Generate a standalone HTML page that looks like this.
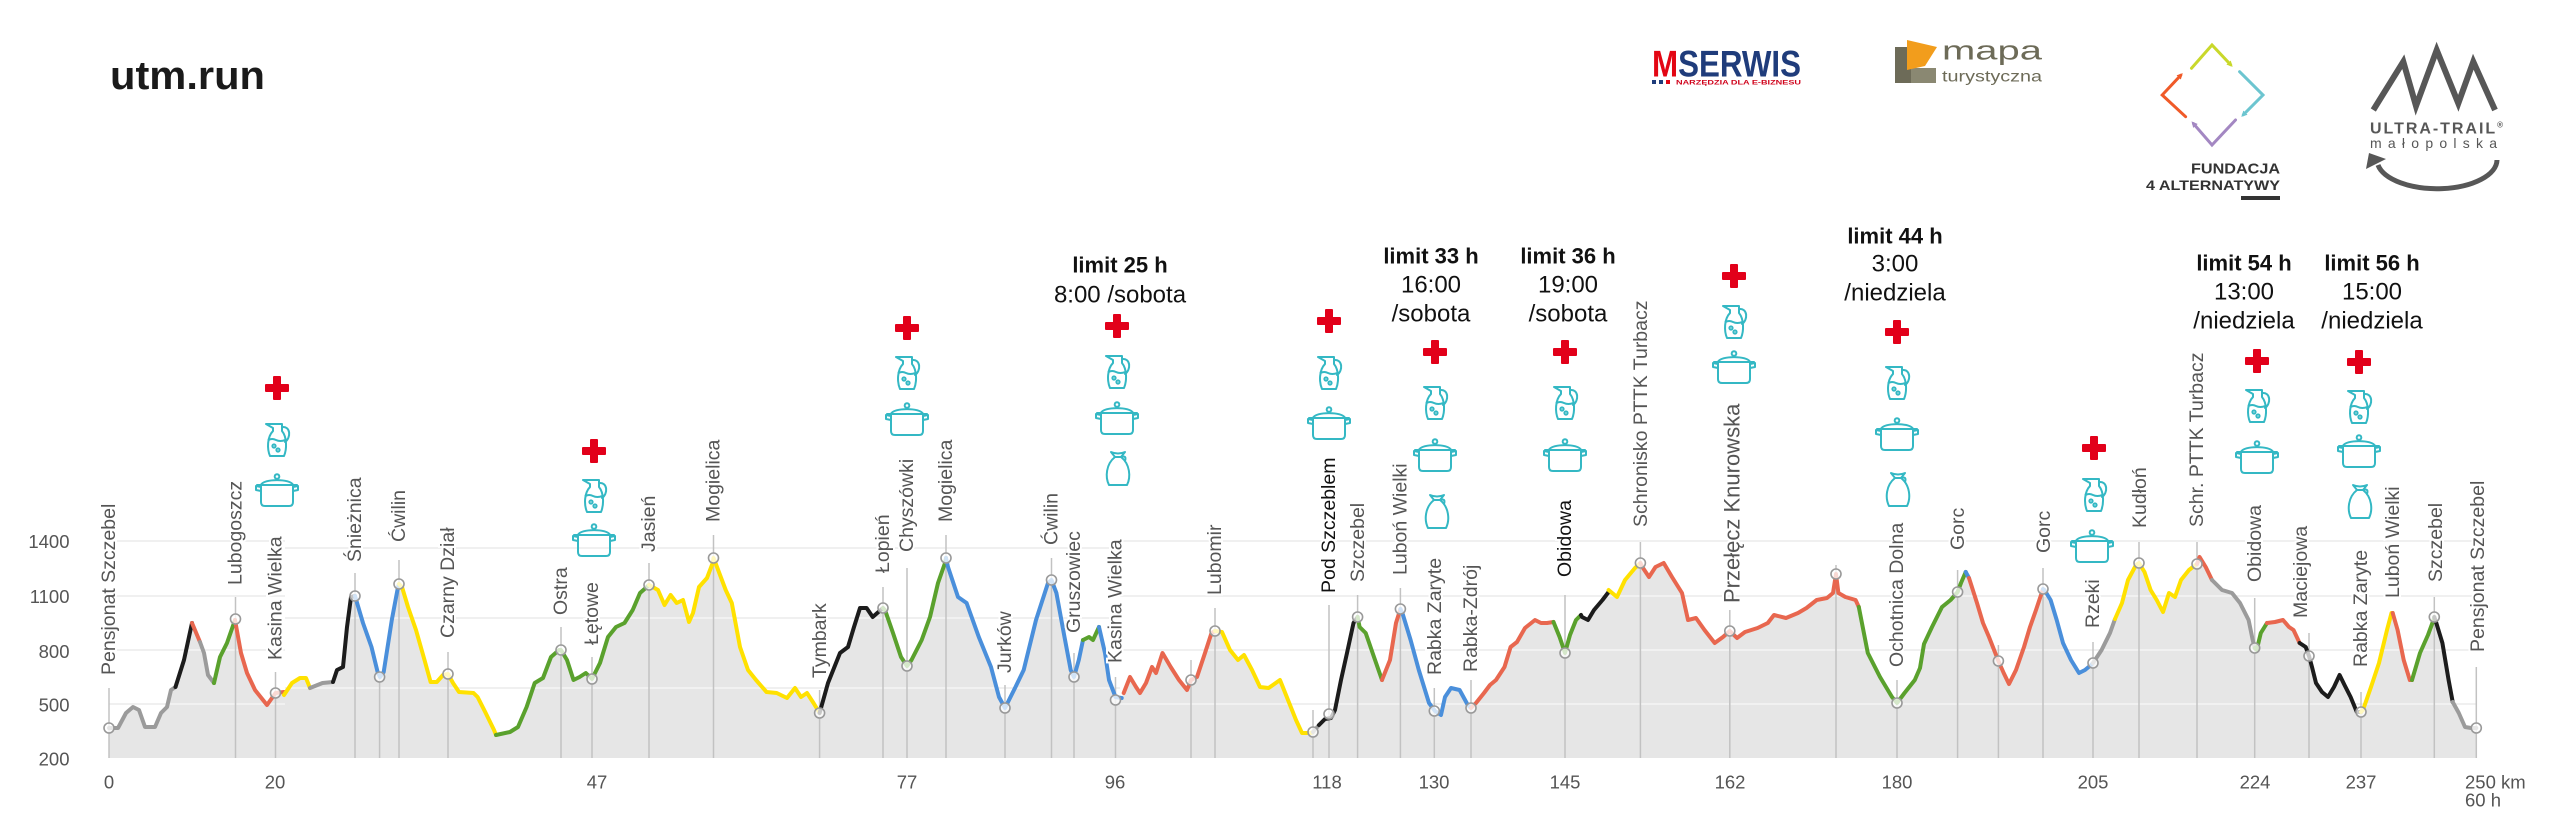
<!DOCTYPE html>
<html><head><meta charset="utf-8">
<style>
html,body{margin:0;padding:0;background:#fff;}
svg{display:block;}
.lab{font-size:19.5px;fill:#555;stroke:#fff;stroke-width:4px;paint-order:stroke;dominant-baseline:central;}
.labk{fill:#111;}
.ax{font-size:18.5px;fill:#555;dominant-baseline:central;}
.lim{font-size:22px;font-weight:bold;fill:#111;text-anchor:middle;dominant-baseline:central;}
.tm{font-size:24px;fill:#111;text-anchor:middle;dominant-baseline:central;}
</style></head>
<body>
<svg width="2560" height="815" viewBox="0 0 2560 815" xmlns="http://www.w3.org/2000/svg" font-family="'Liberation Sans', Arial, sans-serif">
<defs>
  <g id="cross" fill="#e2001a"><rect x="-12" y="-4" width="24" height="8" rx="1"/><rect x="-4" y="-12" width="8" height="24" rx="1"/></g>
  <g id="jug" fill="none" stroke="#34b8c4" stroke-width="2" stroke-linejoin="round" stroke-linecap="round">
    <path d="M-11,-16 L5,-16 L5,-9 C10,-3 10,9 7,16 L-7,16 C-10,9 -10,-3 -4,-9 L-4,-12 Z"/>
    <path d="M5,-13 C14,-14 14,-2 8,2"/>
    <path d="M-8.5,0 Q-5,-2 -1,0 T8.5,0"/>
    <circle cx="-3" cy="6" r="1.6"/><circle cx="1" cy="10" r="1.6"/>
  </g>
  <g id="pot" fill="none" stroke="#34b8c4" stroke-width="2" stroke-linejoin="round" stroke-linecap="round">
    <circle cx="0" cy="-13.5" r="2.3"/>
    <path d="M-16,-5 C-14,-11.5 14,-11.5 16,-5"/>
    <path d="M-20,-5 L20,-5"/>
    <path d="M-16,-5 L-16,12 Q-16,16 -12,16 L12,16 Q16,16 16,12 L16,-5"/>
    <path d="M-16,-3 L-21,-4 L-21,0 L-16,1"/>
    <path d="M16,-3 L21,-4 L21,0 L16,1"/>
  </g>
  <g id="bag" fill="none" stroke="#34b8c4" stroke-width="2" stroke-linejoin="round" stroke-linecap="round">
    <path d="M-7,-17 Q0,-14 7,-17 L3,-12 L-3,-12 Z"/>
    <path d="M-3,-12 C-12,-5 -13,8 -9,16 L9,16 C13,8 12,-5 3,-12"/>
    <path d="M3,-12 Q9,-14 7,-8"/>
  </g>
  <marker id="ay" markerWidth="6" markerHeight="6" refX="3" refY="3" orient="auto" markerUnits="userSpaceOnUse"><path d="M0,0 L6,3 L0,6 Z" fill="#c9d82b"/></marker>
  <marker id="ac" markerWidth="6" markerHeight="6" refX="3" refY="3" orient="auto" markerUnits="userSpaceOnUse"><path d="M0,0 L6,3 L0,6 Z" fill="#6cc5d0"/></marker>
  <marker id="ap" markerWidth="6" markerHeight="6" refX="3" refY="3" orient="auto" markerUnits="userSpaceOnUse"><path d="M0,0 L6,3 L0,6 Z" fill="#a387c2"/></marker>
  <marker id="ao" markerWidth="6" markerHeight="6" refX="3" refY="3" orient="auto" markerUnits="userSpaceOnUse"><path d="M0,0 L6,3 L0,6 Z" fill="#f05a28"/></marker>
</defs>

<rect width="2560" height="815" fill="#fff"/>

<!-- header -->
<text x="110" y="89" font-size="40" font-weight="bold" fill="#1a1a1a" textLength="155" lengthAdjust="spacingAndGlyphs">utm.run</text>

<!-- MSERWIS -->
<text x="1652" y="76.7" font-size="37" font-weight="bold" textLength="149" lengthAdjust="spacingAndGlyphs"><tspan fill="#e30613">M</tspan><tspan fill="#1f3c7b">SERWIS</tspan></text>
<rect x="1652" y="80" width="4" height="4" fill="#1f3c7b"/>
<rect x="1659" y="80" width="4" height="4" fill="#1f3c7b"/>
<rect x="1666" y="80" width="4" height="4" fill="#e30613"/>
<text x="1676" y="84.5" font-size="6" font-weight="bold" fill="#d0021b" textLength="125" lengthAdjust="spacingAndGlyphs">NARZĘDZIA DLA E-BIZNESU</text>

<!-- mapa turystyczna -->
<polygon points="1895,47 1911,47 1911,68 1936,68 1936,83 1895,83" fill="#6d6b58"/>
<polygon points="1911,68 1936,68 1936,83 1911,83" fill="#8a8872"/>
<polygon points="1907,40 1937,47 1925,66 1907,70" fill="#f29d1c"/>
<text x="1942" y="59.5" font-size="27" fill="#6d6b58" textLength="100" lengthAdjust="spacingAndGlyphs">mapa</text>
<text x="1942" y="81.7" font-size="16" fill="#6d6b58" textLength="100" lengthAdjust="spacingAndGlyphs">turystyczna</text>

<!-- Fundacja 4 Alternatywy -->
<g fill="none" stroke-width="3" stroke-linecap="round" stroke-linejoin="miter">
  <polyline points="2191.5,68.3 2212,45 2230.6,64.7" stroke="#c9d82b" marker-end="url(#ay)"/>
  <polyline points="2239.6,71.7 2263,95 2243.4,114.7" stroke="#6cc5d0" marker-end="url(#ac)"/>
  <polyline points="2235.5,120 2212,145 2193.5,123.7" stroke="#a387c2" marker-end="url(#ap)"/>
  <polyline points="2185.6,116.7 2162.2,95 2180.7,75.3" stroke="#f05a28" marker-end="url(#ao)"/>
</g>
<text x="2191" y="173.3" font-size="15" font-weight="bold" fill="#333" textLength="89" lengthAdjust="spacingAndGlyphs">FUNDACJA</text>
<text x="2146" y="190" font-size="14" font-weight="bold" fill="#333" textLength="134" lengthAdjust="spacingAndGlyphs">4 ALTERNATYWY</text>
<rect x="2241" y="196" width="39" height="4" fill="#333"/>

<!-- Ultra-Trail Malopolska -->
<polyline points="2373.3,110 2403.3,61.7 2416,106 2436.7,50 2458.3,103.3 2473.3,61.7 2495,110" fill="none" stroke="#575757" stroke-width="6" stroke-linejoin="miter"/>
<text x="2370" y="133.3" font-size="16" font-weight="bold" fill="#575757" textLength="133" lengthAdjust="spacing">ULTRA-TRAIL<tspan font-size="8" dy="-6">®</tspan></text>
<text x="2370" y="148" font-size="14" fill="#575757" textLength="127" lengthAdjust="spacing">małopolska</text>
<path d="M2378,165 A60 29 0 0 0 2497,160" fill="none" stroke="#575757" stroke-width="5"/>
<polygon points="2369,153 2366,169 2386,159" fill="#575757"/>

<!-- gridlines under fill -->
<g stroke="#e4e4e4" stroke-width="2">
  <line x1="109" y1="541" x2="285" y2="541"/><line x1="109" y1="596" x2="285" y2="596"/>
  <line x1="109" y1="650" x2="285" y2="650"/><line x1="109" y1="704" x2="285" y2="704"/>
  <line x1="285" y1="548" x2="1120" y2="548"/><line x1="285" y1="618" x2="1120" y2="618"/><line x1="285" y1="688" x2="1120" y2="688"/>
  <line x1="1120" y1="541" x2="2476" y2="541"/><line x1="1120" y1="596" x2="2476" y2="596"/>
  <line x1="1120" y1="650" x2="2476" y2="650"/><line x1="1120" y1="704" x2="2476" y2="704"/>
</g>

<!-- fill -->
<polygon fill="#e6e6e6" points="109,728 118,728 126,713 133,707 139,710 145,727 155,727 161,713 167,707 171,690 175.5,687 184,660 192,623 200,642 204,653 208,675 214,683 220,657 227,643 235,620 241,653 247,673 255,690 267,705 275.5,693 284,692 284,695 292,683 300,678 306,678 310,688 322.5,683 333,682 337,670 343,667 347,627 351,597 355,596 363,623 371.5,647 377.6,672 380,677 383.7,672 391.8,620 398,587 399,584 402,587 408,607 416,630 424.5,660 430.6,682 436.8,682 443,675 448,674 453,683 459,692 473.5,693 477.6,697 485.7,713 494,730 496,735 510,732 518,727 526.6,707 534.7,683 543,678 551,657 559,650 561,650 567,660 573.5,680 579.6,677 585.8,673 592,679 600,663 608,637 616,627 624.5,623 632.7,610 640,593 649,585 658,590 664.5,605 670.6,595 676.7,603 683,600 689,622 693,613 699,587 707,578 712.7,563 713.5,558 715.5,563 725.7,590 731.8,603 740,647 748,670 756,680 766.5,692 776.7,693 787,698 795,688 801,697 807,693 813.5,703 819.6,713 828,683 840,653 848,647 854,627 860,608 866.6,608 872.7,617 883,608 885,610 893,633 901,657 907,666 911.5,660 921.7,640 930,617 938,583 945,563 946,558 948,567 958,597 966.6,603 978.8,637 991,667 999,697 1005,708 1015.5,687 1023.7,670 1036,620 1048,583 1051.5,580 1056.4,593 1064.5,637 1070.7,670 1074,677 1078.8,660 1083,640 1089,637 1093,640 1099,627 1105,653 1109,680 1115.5,697 1121.7,698 1123.7,693 1130,677 1136,687 1140,693 1146,683 1152,667 1156,673 1162.5,653 1170.7,667 1179,680 1187,690 1191,680 1197,677 1205,653 1211.5,633 1215,631 1222,632 1230,650 1238,660 1244,655 1252,670 1260,687 1268.6,688 1280,680 1288,700 1296,720 1302,733 1310.6,733 1313,732 1319,725 1325,719 1331,718 1335,710 1341,680 1347,653 1353.5,623 1357.6,617 1359.6,627 1365.7,633 1374,657 1382,680 1390,660 1396,623 1400.4,609 1402.4,613 1410.6,640 1418.8,670 1429,703 1435,711 1441,715 1445,697 1451,688 1459.6,690 1467.8,705 1471,708 1476,703 1484,693 1490,685 1496,680 1504.5,667 1510.6,647 1517,642 1525,628 1535,620 1541,623 1547,623 1553.5,622 1559.6,637 1565,653 1570,635 1576,620 1581,615 1582,617 1588,620 1594,610 1602.5,600 1608.6,592 1608.6,590 1617,597 1625,580 1635,568 1640.4,563 1643,568 1649,577 1655.5,567 1663.7,563 1672,577 1682,593 1688,620 1696,618 1704.5,630 1714.7,643 1723,637 1729.8,631 1737,638 1745,632 1757.6,628 1767.8,623 1774,615 1786,618 1798,613 1806.5,608 1816.7,600 1827,598 1833,593 1836,574 1838.4,593 1845.4,597 1855.6,600 1858.8,607 1867.8,653 1880,677 1892,697 1897,703 1904.5,693 1914.8,680 1920,668 1924,644 1932,627 1942,607 1950.6,600 1957.6,592 1961,583 1965.7,572 1969,578 1977,603 1983,623 1989,637 1998.4,661 2003.7,673 2009,684 2016,670 2024,647 2030,627 2036,610 2043,589 2044.5,590 2050.6,600 2056.7,620 2063,643 2071,660 2079,673 2085,670 2091,665 2093,663 2101.6,650 2110,633 2115,619 2122,603 2128,580 2136,565 2139,563 2144.5,572 2150.6,590 2156.7,600 2163,612 2169,593 2175,597 2181,580 2189,570 2195.5,565 2197,564 2199.6,557 2205.7,567 2212,580 2214,582 2222,590 2232,593 2240,603 2248.6,620 2252.7,640 2254.7,648 2256.7,650 2260.8,633 2267,623 2275,622 2283,620 2289,627 2293.5,630 2299.6,643 2305.7,647 2309,656 2312,667 2316,683 2322,692 2328,697 2334,687 2339.6,675 2344.5,685 2350.6,697 2356.8,712 2361,712 2363,710 2371,687 2379,663 2387,630 2391.5,613 2392.7,613 2397.6,630 2403.7,660 2409.8,680 2412,680 2420,653 2428,635 2433.5,620 2434.3,617 2436.3,623 2442.4,643 2448.6,680 2452.7,702 2458.8,713 2465,727 2471,728 2476.3,728 2476.3,758 109,758"/>

<!-- gridlines overlay on fill -->
<g stroke="#ffffff" stroke-opacity="0.45" stroke-width="2">
  <line x1="109" y1="541" x2="285" y2="541"/><line x1="109" y1="596" x2="285" y2="596"/>
  <line x1="109" y1="650" x2="285" y2="650"/><line x1="109" y1="704" x2="285" y2="704"/>
  <line x1="285" y1="548" x2="1120" y2="548"/><line x1="285" y1="618" x2="1120" y2="618"/><line x1="285" y1="688" x2="1120" y2="688"/>
  <line x1="1120" y1="541" x2="2476" y2="541"/><line x1="1120" y1="596" x2="2476" y2="596"/>
  <line x1="1120" y1="650" x2="2476" y2="650"/><line x1="1120" y1="704" x2="2476" y2="704"/>
</g>

<!-- tick lines -->
<g stroke="#c2c2c2" stroke-width="1.5">
  <line x1="109" y1="758" x2="109" y2="688"/>
  <line x1="235.5" y1="758" x2="235.5" y2="597"/>
  <line x1="275.5" y1="758" x2="275.5" y2="672"/>
  <line x1="355" y1="758" x2="355" y2="573"/>
  <line x1="379.6" y1="758" x2="379.6" y2="677"/>
  <line x1="399" y1="758" x2="399" y2="560"/>
  <line x1="448" y1="758" x2="448" y2="652"/>
  <line x1="561" y1="758" x2="561" y2="627"/>
  <line x1="592" y1="758" x2="592" y2="657"/>
  <line x1="649" y1="758" x2="649" y2="563"/>
  <line x1="713.5" y1="758" x2="713.5" y2="535"/>
  <line x1="819.6" y1="758" x2="819.6" y2="690"/>
  <line x1="883" y1="758" x2="883" y2="587"/>
  <line x1="907" y1="758" x2="907" y2="568"/>
  <line x1="946" y1="758" x2="946" y2="535"/>
  <line x1="1005" y1="758" x2="1005" y2="685"/>
  <line x1="1051.5" y1="758" x2="1051.5" y2="558"/>
  <line x1="1074" y1="758" x2="1074" y2="653"/>
  <line x1="1115.5" y1="758" x2="1115.5" y2="677"/>
  <line x1="1191" y1="758" x2="1191" y2="660"/>
  <line x1="1215" y1="758" x2="1215" y2="608"/>
  <line x1="1313" y1="758" x2="1313" y2="710"/>
  <line x1="1329" y1="758" x2="1329" y2="605"/>
  <line x1="1357.6" y1="758" x2="1357.6" y2="595"/>
  <line x1="1400.4" y1="758" x2="1400.4" y2="588"/>
  <line x1="1434.3" y1="758" x2="1434.3" y2="688"/>
  <line x1="1471" y1="758" x2="1471" y2="680"/>
  <line x1="1565" y1="758" x2="1565" y2="595"/>
  <line x1="1640.4" y1="758" x2="1640.4" y2="542"/>
  <line x1="1729.8" y1="758" x2="1729.8" y2="610"/>
  <line x1="1836" y1="758" x2="1836" y2="565"/>
  <line x1="1897" y1="758" x2="1897" y2="680"/>
  <line x1="1957.6" y1="758" x2="1957.6" y2="570"/>
  <line x1="1998.4" y1="758" x2="1998.4" y2="645"/>
  <line x1="2043" y1="758" x2="2043" y2="568"/>
  <line x1="2093" y1="758" x2="2093" y2="642"/>
  <line x1="2139" y1="758" x2="2139" y2="542"/>
  <line x1="2197" y1="758" x2="2197" y2="542"/>
  <line x1="2254.7" y1="758" x2="2254.7" y2="598"/>
  <line x1="2309" y1="758" x2="2309" y2="633"/>
  <line x1="2361" y1="758" x2="2361" y2="692"/>
  <line x1="2434.3" y1="758" x2="2434.3" y2="597"/>
  <line x1="2476.3" y1="758" x2="2476.3" y2="667"/>
</g>

<!-- profile colored segments -->
<g fill="none" stroke-width="4" stroke-linejoin="round" stroke-linecap="round">
  <polyline stroke="#9b9b9b" points="109,728 118,728 126,713 133,707 139,710 145,727 155,727 161,713 167,707 171,690 175.5,687"/>
  <polyline stroke="#1c1c1c" points="175.5,687 184,660 192,623"/>
  <polyline stroke="#e8674f" points="192,623 200,642"/>
  <polyline stroke="#9b9b9b" points="200,642 204,653 208,675 214,683"/>
  <polyline stroke="#5aa12d" points="214,683 220,657 227,643 235,620"/>
  <polyline stroke="#e8674f" points="235,620 241,653 247,673 255,690 267,705 275.5,693 284,692"/>
  <polyline stroke="#ffe100" points="284,695 292,683 300,678 306,678 310,688"/>
  <polyline stroke="#9b9b9b" points="310,688 322.5,683 333,682"/>
  <polyline stroke="#1c1c1c" points="333,682 337,670 343,667 347,627 351,597 355,596"/>
  <polyline stroke="#4a8fdb" points="355,596 363,623 371.5,647 377.6,672 380,677 383.7,672 391.8,620 398,587 399,584"/>
  <polyline stroke="#ffe100" points="399,584 402,587 408,607 416,630 424.5,660 430.6,682 436.8,682 443,675 448,674 453,683 459,692 473.5,693 477.6,697 485.7,713 494,730 496,735"/>
  <polyline stroke="#5aa12d" points="496,735 510,732 518,727 526.6,707 534.7,683 543,678 551,657 559,650 561,650 567,660 573.5,680 579.6,677 585.8,673 592,679 600,663 608,637 616,627 624.5,623 632.7,610 640,593 649,585"/>
  <polyline stroke="#ffe100" points="649,585 658,590 664.5,605 670.6,595 676.7,603 683,600 689,622 693,613 699,587 707,578 712.7,563 713.5,558 715.5,563 725.7,590 731.8,603 740,647 748,670 756,680 766.5,692 776.7,693 787,698 795,688 801,697 807,693 813.5,703 819.6,713"/>
  <polyline stroke="#1c1c1c" points="819.6,713 828,683 840,653 848,647 854,627 860,608 866.6,608 872.7,617 883,608"/>
  <polyline stroke="#5aa12d" points="883,608 885,610 893,633 901,657 907,666 911.5,660 921.7,640 930,617 938,583 945,563 946,558"/>
  <polyline stroke="#4a8fdb" points="946,558 948,567 958,597 966.6,603 978.8,637 991,667 999,697 1005,708 1015.5,687 1023.7,670 1036,620 1048,583 1051.5,580 1056.4,593 1064.5,637 1070.7,670 1074,677 1078.8,660 1083,640"/>
  <polyline stroke="#5aa12d" points="1083,640 1089,637 1093,640 1099,627"/>
  <polyline stroke="#4a8fdb" points="1099,627 1105,653 1109,680 1115.5,697 1121.7,698"/>
  <polyline stroke="#e8674f" points="1123.7,693 1130,677 1136,687 1140,693 1146,683 1152,667 1156,673 1162.5,653 1170.7,667 1179,680 1187,690 1191,680 1197,677 1205,653 1211.5,633 1215,631"/>
  <polyline stroke="#ffe100" points="1215,631 1222,632 1230,650 1238,660 1244,655 1252,670 1260,687 1268.6,688 1280,680 1288,700 1296,720 1302,733 1310.6,733 1313,732"/>
  <polyline stroke="#9b9b9b" points="1313,732 1319,725"/>
  <polyline stroke="#1c1c1c" points="1319,725 1325,719 1331,718 1335,710 1341,680 1347,653 1353.5,623 1357.6,617"/>
  <polyline stroke="#5aa12d" points="1357.6,617 1359.6,627 1365.7,633 1374,657 1382,680"/>
  <polyline stroke="#e8674f" points="1382,680 1390,660 1396,623 1400.4,609"/>
  <polyline stroke="#4a8fdb" points="1400.4,609 1402.4,613 1410.6,640 1418.8,670 1429,703 1435,711 1441,715 1445,697 1451,688 1459.6,690 1467.8,705 1471,708"/>
  <polyline stroke="#e8674f" points="1471,708 1476,703 1484,693 1490,685 1496,680 1504.5,667 1510.6,647 1517,642 1525,628 1535,620 1541,623 1547,623 1553.5,622"/>
  <polyline stroke="#5aa12d" points="1553.5,622 1559.6,637 1565,653 1570,635 1576,620 1581,615"/>
  <polyline stroke="#1c1c1c" points="1581,615 1582,617 1588,620 1594,610 1602.5,600 1608.6,592"/>
  <polyline stroke="#ffe100" points="1608.6,590 1617,597 1625,580 1635,568 1640.4,563"/>
  <polyline stroke="#e8674f" points="1640.4,563 1643,568 1649,577 1655.5,567 1663.7,563 1672,577 1682,593 1688,620 1696,618 1704.5,630 1714.7,643 1723,637 1729.8,631 1737,638 1745,632 1757.6,628 1767.8,623 1774,615 1786,618 1798,613 1806.5,608 1816.7,600 1827,598 1833,593 1836,574 1838.4,593 1845.4,597 1855.6,600 1858.8,607"/>
  <polyline stroke="#5aa12d" points="1858.8,607 1867.8,653 1880,677 1892,697 1897,703 1904.5,693 1914.8,680 1920,668 1924,644 1932,627 1942,607 1950.6,600 1957.6,592 1961,583 1965.7,572"/>
  <polyline stroke="#4a8fdb" points="1965.7,572 1969,578"/>
  <polyline stroke="#e8674f" points="1969,578 1977,603 1983,623 1989,637 1998.4,661 2003.7,673 2009,684 2016,670 2024,647 2030,627 2036,610 2043,589"/>
  <polyline stroke="#4a8fdb" points="2043,589 2044.5,590 2050.6,600 2056.7,620 2063,643 2071,660 2079,673 2085,670 2091,665 2093,663"/>
  <polyline stroke="#9b9b9b" points="2093,663 2101.6,650 2110,633 2115,619"/>
  <polyline stroke="#ffe100" points="2115,619 2122,603 2128,580 2136,565 2139,563 2144.5,572 2150.6,590 2156.7,600 2163,612 2169,593 2175,597 2181,580 2189,570 2195.5,565 2197,564"/>
  <polyline stroke="#e8674f" points="2197,564 2199.6,557 2205.7,567 2212,580"/>
  <polyline stroke="#9b9b9b" points="2212,580 2214,582 2222,590 2232,593 2240,603 2248.6,620 2252.7,640 2254.7,648"/>
  <polyline stroke="#5aa12d" points="2254.7,648 2256.7,650 2260.8,633 2267,623"/>
  <polyline stroke="#e8674f" points="2267,623 2275,622 2283,620 2289,627 2293.5,630 2299.6,643"/>
  <polyline stroke="#1c1c1c" points="2299.6,643 2305.7,647 2309,656 2312,667 2316,683 2322,692 2328,697 2334,687 2339.6,675 2344.5,685 2350.6,697 2356.8,712 2361,712"/>
  <polyline stroke="#ffe100" points="2361,712 2363,710 2371,687 2379,663 2387,630 2391.5,613 2392.7,613"/>
  <polyline stroke="#e8674f" points="2392.7,613 2397.6,630 2403.7,660 2409.8,680 2412,680"/>
  <polyline stroke="#5aa12d" points="2412,680 2420,653 2428,635 2433.5,620 2434.3,617"/>
  <polyline stroke="#1c1c1c" points="2434.3,617 2436.3,623 2442.4,643 2448.6,680 2452.7,702"/>
  <polyline stroke="#9b9b9b" points="2452.7,702 2458.8,713 2465,727 2471,728 2476.3,728"/>
</g>

<!-- markers -->
<g fill="#ffffff" fill-opacity="0.75" stroke="#999" stroke-width="1.6">
  <circle cx="109" cy="728" r="5"/><circle cx="235.5" cy="619" r="5"/><circle cx="275.5" cy="693" r="5"/>
  <circle cx="355" cy="596" r="5"/><circle cx="379.6" cy="677" r="5"/><circle cx="399" cy="584" r="5"/>
  <circle cx="448" cy="674" r="5"/><circle cx="561" cy="650" r="5"/><circle cx="592" cy="679" r="5"/>
  <circle cx="649" cy="585" r="5"/><circle cx="713.5" cy="558" r="5"/><circle cx="819.6" cy="713" r="5"/>
  <circle cx="883" cy="608" r="5"/><circle cx="907" cy="666" r="5"/><circle cx="946" cy="558" r="5"/>
  <circle cx="1005" cy="708" r="5"/><circle cx="1051.5" cy="580" r="5"/><circle cx="1074" cy="677" r="5"/>
  <circle cx="1115.5" cy="700" r="5"/><circle cx="1191" cy="680" r="5"/><circle cx="1215" cy="631" r="5"/>
  <circle cx="1313" cy="732" r="5"/><circle cx="1329" cy="714" r="5"/><circle cx="1357.6" cy="617" r="5"/>
  <circle cx="1400.4" cy="609" r="5"/><circle cx="1434.3" cy="711" r="5"/><circle cx="1471" cy="708" r="5"/>
  <circle cx="1565" cy="653" r="5"/><circle cx="1640.4" cy="563" r="5"/><circle cx="1729.8" cy="631" r="5"/>
  <circle cx="1836" cy="574" r="5"/><circle cx="1897" cy="703" r="5"/><circle cx="1957.6" cy="592" r="5"/>
  <circle cx="1998.4" cy="661" r="5"/><circle cx="2043" cy="589" r="5"/><circle cx="2093" cy="663" r="5"/>
  <circle cx="2139" cy="563" r="5"/><circle cx="2197" cy="564" r="5"/><circle cx="2254.7" cy="648" r="5"/>
  <circle cx="2309" cy="656" r="5"/><circle cx="2361" cy="712" r="5"/><circle cx="2434.3" cy="617" r="5"/>
  <circle cx="2476.3" cy="728" r="5"/>
</g>

<!-- checkpoint labels -->
<g>
  <text class="lab" transform="translate(109,675) rotate(-90)">Pensjonat Szczebel</text>
  <text class="lab" transform="translate(235.5,585) rotate(-90)">Lubogoszcz</text>
  <text class="lab" transform="translate(275.5,660) rotate(-90)">Kasina Wielka</text>
  <text class="lab" transform="translate(355,562) rotate(-90)">Śnieżnica</text>
  <text class="lab" transform="translate(399,542) rotate(-90)">Ćwilin</text>
  <text class="lab" transform="translate(448,638) rotate(-90)">Czarny Dział</text>
  <text class="lab" transform="translate(561,615) rotate(-90)">Ostra</text>
  <text class="lab" transform="translate(592,645) rotate(-90)">Łętowe</text>
  <text class="lab" transform="translate(649,552) rotate(-90)">Jasień</text>
  <text class="lab" transform="translate(713.5,522) rotate(-90)">Mogielica</text>
  <text class="lab" transform="translate(820,678) rotate(-90)">Tymbark</text>
  <text class="lab" transform="translate(883,573) rotate(-90)">Łopień</text>
  <text class="lab" transform="translate(907,552) rotate(-90)">Chyszówki</text>
  <text class="lab" transform="translate(946,522) rotate(-90)">Mogielica</text>
  <text class="lab" transform="translate(1005,673) rotate(-90)">Jurków</text>
  <text class="lab" transform="translate(1051.5,545) rotate(-90)">Ćwilin</text>
  <text class="lab" transform="translate(1074,633) rotate(-90)">Gruszowiec</text>
  <text class="lab" transform="translate(1115.5,663) rotate(-90)">Kasina Wielka</text>
  <text class="lab" transform="translate(1215,595) rotate(-90)">Lubomir</text>
  <text class="lab labk" transform="translate(1329,593) rotate(-90)">Pod Szczeblem</text>
  <text class="lab" transform="translate(1358,582) rotate(-90)">Szczebel</text>
  <text class="lab" transform="translate(1400.4,575) rotate(-90)">Luboń Wielki</text>
  <text class="lab" transform="translate(1435,675) rotate(-90)">Rabka Zaryte</text>
  <text class="lab" transform="translate(1471,672) rotate(-90)">Rabka-Zdrój</text>
  <text class="lab labk" transform="translate(1565,577) rotate(-90)">Obidowa</text>
  <text class="lab" transform="translate(1641,527) rotate(-90)">Schronisko PTTK Turbacz</text>
  <text class="lab" style="font-size:22px" transform="translate(1732,603) rotate(-90)">Przełęcz Knurowska</text>
  <text class="lab" transform="translate(1897,667) rotate(-90)">Ochotnica Dolna</text>
  <text class="lab" transform="translate(1958,550) rotate(-90)">Gorc</text>
  <text class="lab" transform="translate(2044,553) rotate(-90)">Gorc</text>
  <text class="lab" transform="translate(2093,628) rotate(-90)">Rzeki</text>
  <text class="lab" transform="translate(2140,528) rotate(-90)">Kudłoń</text>
  <text class="lab" transform="translate(2197,527) rotate(-90)">Schr. PTTK Turbacz</text>
  <text class="lab" transform="translate(2255,582) rotate(-90)">Obidowa</text>
  <text class="lab" transform="translate(2301,618) rotate(-90)">Maciejowa</text>
  <text class="lab" transform="translate(2361,667) rotate(-90)">Rabka Zaryte</text>
  <text class="lab" transform="translate(2393,598) rotate(-90)">Luboń Wielki</text>
  <text class="lab" transform="translate(2436,582) rotate(-90)">Szczebel</text>
  <text class="lab" transform="translate(2478,652) rotate(-90)">Pensjonat Szczebel</text>
</g>

<!-- y axis labels -->
<g text-anchor="end">
  <text class="ax" x="69.5" y="541.7">1400</text>
  <text class="ax" x="69.5" y="596.7">1100</text>
  <text class="ax" x="69.5" y="651.7">800</text>
  <text class="ax" x="69.5" y="705">500</text>
  <text class="ax" x="69.5" y="759">200</text>
</g>

<!-- x axis labels -->
<g text-anchor="middle">
  <text class="ax" x="109" y="782">0</text>
  <text class="ax" x="275" y="782">20</text>
  <text class="ax" x="597" y="782">47</text>
  <text class="ax" x="907" y="782">77</text>
  <text class="ax" x="1115" y="782">96</text>
  <text class="ax" x="1327" y="782">118</text>
  <text class="ax" x="1434" y="782">130</text>
  <text class="ax" x="1565" y="782">145</text>
  <text class="ax" x="1730" y="782">162</text>
  <text class="ax" x="1897" y="782">180</text>
  <text class="ax" x="2093" y="782">205</text>
  <text class="ax" x="2255" y="782">224</text>
  <text class="ax" x="2361" y="782">237</text>
</g>
<text class="ax" x="2465" y="782">250 km</text>
<text class="ax" x="2465" y="800">60 h</text>

<!-- limits text -->
<text class="lim" x="1120" y="265">limit 25 h</text>
<text class="tm" x="1120" y="295">8:00 /sobota</text>

<text class="lim" x="1431" y="256">limit 33 h</text>
<text class="tm" x="1431" y="285">16:00</text>
<text class="tm" x="1431" y="314">/sobota</text>

<text class="lim" x="1568" y="256">limit 36 h</text>
<text class="tm" x="1568" y="285">19:00</text>
<text class="tm" x="1568" y="314">/sobota</text>

<text class="lim" x="1895" y="236">limit 44 h</text>
<text class="tm" x="1895" y="264">3:00</text>
<text class="tm" x="1895" y="293">/niedziela</text>

<text class="lim" x="2244" y="263">limit 54 h</text>
<text class="tm" x="2244" y="292">13:00</text>
<text class="tm" x="2244" y="321">/niedziela</text>

<text class="lim" x="2372" y="263">limit 56 h</text>
<text class="tm" x="2372" y="292">15:00</text>
<text class="tm" x="2372" y="321">/niedziela</text>

<!-- icons -->
<use href="#cross" x="277" y="388"/><use href="#jug" x="277" y="440"/><use href="#pot" x="277" y="490"/>
<use href="#cross" x="594" y="451"/><use href="#jug" x="594" y="496"/><use href="#pot" x="594" y="540"/>
<use href="#cross" x="907" y="328"/><use href="#jug" x="907" y="373"/><use href="#pot" x="907" y="419"/>
<use href="#cross" x="1117" y="326"/><use href="#jug" x="1117" y="372"/><use href="#pot" x="1117" y="418"/><use href="#bag" x="1118" y="469"/>
<use href="#cross" x="1329" y="321"/><use href="#jug" x="1329" y="373"/><use href="#pot" x="1329" y="423"/>
<use href="#cross" x="1435" y="352"/><use href="#jug" x="1435" y="403"/><use href="#pot" x="1435" y="455"/><use href="#bag" x="1437" y="512"/>
<use href="#cross" x="1565" y="352"/><use href="#jug" x="1565" y="403"/><use href="#pot" x="1565" y="455"/>
<use href="#cross" x="1734" y="276"/><use href="#jug" x="1734" y="322"/><use href="#pot" x="1734" y="367"/>
<use href="#cross" x="1897" y="332"/><use href="#jug" x="1897" y="383"/><use href="#pot" x="1897" y="434"/><use href="#bag" x="1898" y="490"/>
<use href="#cross" x="2094" y="448"/><use href="#jug" x="2094" y="495"/><use href="#pot" x="2092" y="546"/>
<use href="#cross" x="2257" y="361"/><use href="#jug" x="2257" y="406"/><use href="#pot" x="2257" y="457"/>
<use href="#cross" x="2359" y="362"/><use href="#jug" x="2359" y="407"/><use href="#pot" x="2359" y="451"/><use href="#bag" x="2360" y="502"/>
</svg>
</body></html>
